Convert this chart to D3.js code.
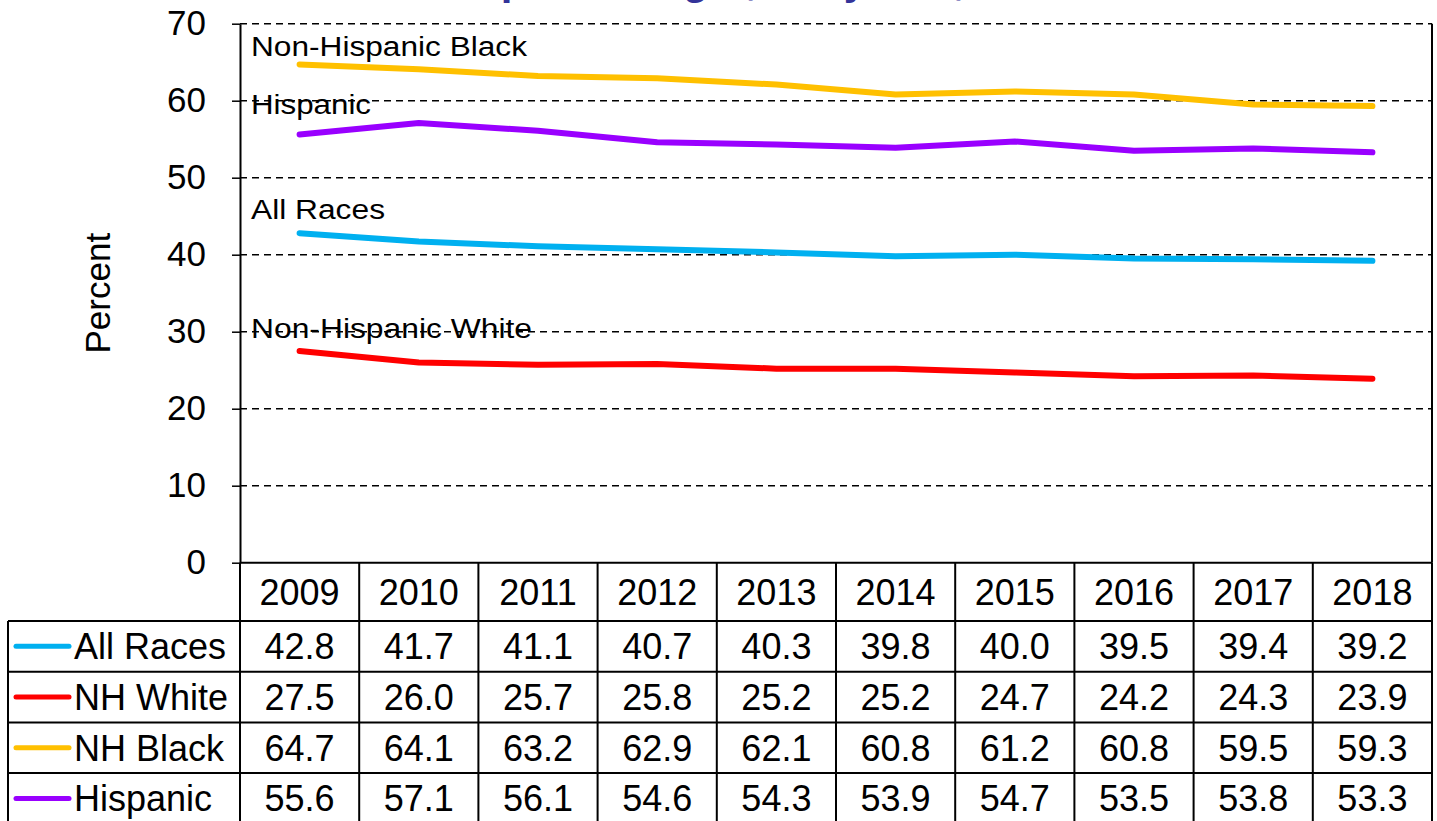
<!DOCTYPE html>
<html>
<head>
<meta charset="utf-8">
<script src="https://cdn.jsdelivr.net/npm/d3@7"></script>
<style>
  html, body { margin: 0; padding: 0; background: #fff; }
  svg { display: block; font-family: "Liberation Sans", Arial, sans-serif; }
</style>
</head>
<body>
<svg id="chart" width="1437" height="821"></svg>
<script>
// ---- data ----
const years = ["2009","2010","2011","2012","2013","2014","2015","2016","2017","2018"];
const seriesNames = ["All Races","NH White","NH Black","Hispanic"];
const allRaces = [42.8, 41.7, 41.1, 40.7, 40.3, 39.8, 40.0, 39.5, 39.4, 39.2];
const nhWhite  = [27.5, 26.0, 25.7, 25.8, 25.2, 25.2, 24.7, 24.2, 24.3, 23.9];
const nhBlack  = [64.7, 64.1, 63.2, 62.9, 62.1, 60.8, 61.2, 60.8, 59.5, 59.3];
const hispanic = [55.6, 57.1, 56.1, 54.6, 54.3, 53.9, 54.7, 53.5, 53.8, 53.3];
const lineLabels = ["All Races","Non-Hispanic White","Non-Hispanic Black","Hispanic"];
const yTicks = [0,10,20,30,40,50,60,70];
const titleText = "Race and Hispanic Origin, Maryland, 2009-2018";
const yAxisTitle = "Percent";

// ---- layout / style ----
const colors = ["#00B0F0", "#FF0000", "#FFC000", "#9900FF"];
const values = [allRaces, nhWhite, nhBlack, hispanic];
const labelPos = [  // [data-unit y for baseline, target width px]
  {v: 44.6, w: 134},
  {v: 29.2, w: 281},
  {v: 65.8, w: 276},
  {v: 58.3, w: 120}
];
const plotL = 240, plotR = 1432, plotT = 23.7, plotB = 562.7;
const tableL = 8, headerB = 621, rowH = 50.7;

const svg = d3.select("#chart");

const x = d3.scaleBand().domain(years).range([plotL, plotR]).padding(0);
const y = d3.scaleLinear().domain([0, 70]).range([plotB, plotT]);
const cx = d => x(d) + x.bandwidth() / 2;

// title (mostly clipped above the viewport, as in the reference)
svg.append("text")
  .attr("x", 237).attr("y", -6)
  .attr("font-size", 42).attr("font-weight", "bold")
  .attr("fill", "#333399")
  .text(titleText);

// gridlines (dashed), including top 70
svg.append("g").selectAll("line")
  .data(yTicks.filter(t => t > 0))
  .join("line")
  .attr("x1", plotL).attr("x2", plotR)
  .attr("y1", d => y(d)).attr("y2", d => y(d))
  .attr("stroke", "#000").attr("stroke-width", 1.5)
  .attr("stroke-dasharray", "7,5");

// y axis with ticks outside
const yAxis = d3.axisLeft(y).tickValues(yTicks).tickSize(8).tickSizeOuter(0).tickPadding(26);
const ga = svg.append("g").attr("transform", `translate(${plotL},0)`).call(yAxis);
ga.select(".domain").attr("stroke", "#000").attr("stroke-width", 2);
ga.selectAll(".tick line").attr("stroke", "#000").attr("stroke-width", 1.5);
ga.selectAll(".tick text").attr("font-size", 35).attr("fill", "#000")
  .attr("font-family", "'Liberation Sans', Arial, sans-serif").attr("dy", "0.3em");

// right border
svg.append("line").attr("x1", plotR).attr("x2", plotR).attr("y1", plotT).attr("y2", plotB)
  .attr("stroke", "#000").attr("stroke-width", 2);

// y axis title
svg.append("text")
  .attr("transform", `translate(110,${(plotT + plotB) / 2}) rotate(-90)`)
  .attr("text-anchor", "middle").attr("font-size", 35)
  .text(yAxisTitle);

// lines
const line = d3.line().x((d, i) => cx(years[i])).y(d => y(d));
svg.append("g").selectAll("path")
  .data(values)
  .join("path")
  .attr("d", d => line(d))
  .attr("fill", "none")
  .attr("stroke", (d, i) => colors[i])
  .attr("stroke-width", 6)
  .attr("stroke-linecap", "round")
  .attr("stroke-linejoin", "round");

// line labels
svg.append("g").selectAll("text")
  .data(lineLabels)
  .join("text")
  .attr("x", 251)
  .attr("y", (d, i) => y(labelPos[i].v))
  .attr("font-size", 27)
  .attr("textLength", (d, i) => labelPos[i].w)
  .attr("lengthAdjust", "spacingAndGlyphs")
  .text(d => d);

// ---- data table ----
const tableB = headerB + rowH * seriesNames.length;
const tg = svg.append("g");
const stroke = s => s.attr("stroke", "#000").attr("stroke-width", 2);

// horizontal lines
stroke(tg.append("line").attr("x1", plotL).attr("x2", plotR).attr("y1", plotB).attr("y2", plotB));
seriesNames.forEach((s, i) => {
  stroke(tg.append("line").attr("x1", tableL).attr("x2", plotR)
    .attr("y1", headerB + rowH * i).attr("y2", headerB + rowH * i));
});
stroke(tg.append("line").attr("x1", tableL).attr("x2", plotR).attr("y1", tableB).attr("y2", tableB));
// vertical lines
stroke(tg.append("line").attr("x1", tableL).attr("x2", tableL).attr("y1", headerB).attr("y2", tableB));
years.forEach(yr => {
  stroke(tg.append("line").attr("x1", x(yr)).attr("x2", x(yr)).attr("y1", plotB).attr("y2", tableB));
});
stroke(tg.append("line").attr("x1", plotR).attr("x2", plotR).attr("y1", plotB).attr("y2", tableB));

// header years
tg.selectAll("text.yr").data(years).join("text").attr("class", "yr")
  .attr("x", d => cx(d)).attr("y", (plotB + headerB) / 2 + 13)
  .attr("text-anchor", "middle").attr("font-size", 36).text(d => d);

// rows
seriesNames.forEach((name, i) => {
  const rc = headerB + rowH * i + rowH / 2;
  tg.append("line").attr("x1", 16).attr("x2", 69).attr("y1", rc).attr("y2", rc)
    .attr("stroke", colors[i]).attr("stroke-width", 5).attr("stroke-linecap", "round");
  tg.append("text").attr("x", 74).attr("y", rc + 13).attr("font-size", 36).text(name);
  tg.selectAll("text.v" + i).data(values[i]).join("text").attr("class", "v" + i)
    .attr("x", (d, j) => cx(years[j])).attr("y", rc + 13)
    .attr("text-anchor", "middle").attr("font-size", 36)
    .text(d => d.toFixed(1));
});
</script>
</body>
</html>
